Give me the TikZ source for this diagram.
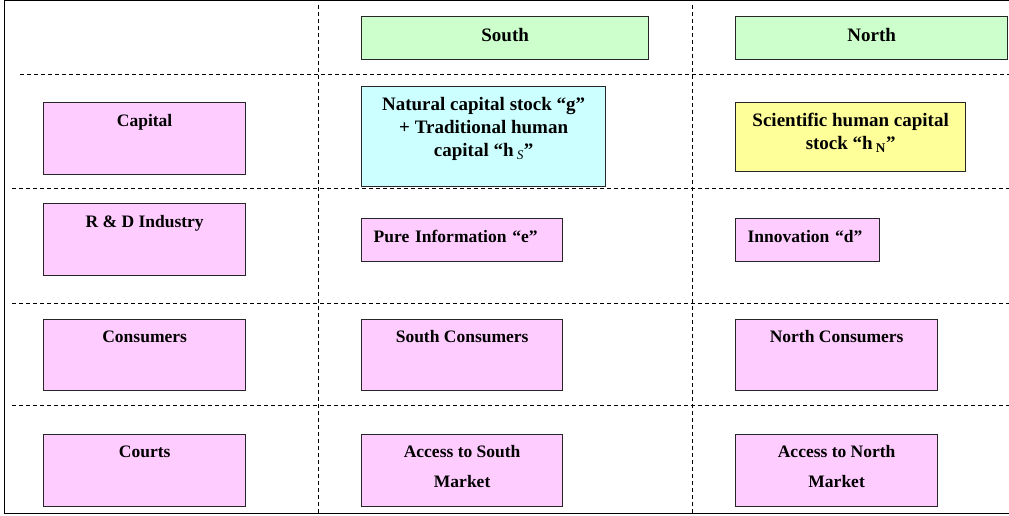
\documentclass[tikz,border=0pt]{standalone}
\usepackage{fontspec}
\setmainfont{Liberation Serif}
\definecolor{headgreen}{HTML}{CCFFCC}
\definecolor{cellpink}{HTML}{FFCCFF}
\definecolor{cellcyan}{HTML}{CCFFFF}
\definecolor{cellyellow}{HTML}{FFFF99}
\tikzset{
  cell/.style={draw=black!85, line width=1.3pt, anchor=north west, inner sep=0pt,
    align=center, font=\bfseries\fontsize{17.5}{23}\selectfont},
  bigcell/.style={cell, font=\bfseries\fontsize{19}{23}\selectfont},
  grid line/.style={dashed, dash pattern=on 4pt off 3pt, line width=0.8pt},
}
\begin{document}
\begin{tikzpicture}[x=1pt, y=-1pt]
    \useasboundingbox (0,0) rectangle (1009,516);

    % Frame and dashed grid
    \draw[line width=1pt] (1009,1) -- (4,1) -- (4,513) -- (1009,513);
    \draw[grid line] (318,5) -- (318,513);
    \draw[grid line] (692,5) -- (692,513);
    \draw[grid line] (20,74) -- (1009,74);
    \draw[grid line] (12,188) -- (1009,188);
    \draw[grid line] (12,303) -- (1009,303);
    \draw[grid line] (12,405) -- (1009,405);

    % Column headers
    \node[bigcell, fill=headgreen, minimum width=287pt, text height=25pt, text depth=18pt] (south) at (361,16) {South};
    \node[bigcell, fill=headgreen, minimum width=272pt, text height=25pt, text depth=18pt] (north) at (735,16) {North};

    % Row: capital
    \node[cell, fill=cellpink, minimum width=202pt, text height=24pt, text depth=48pt] (capital) at (43,102) {Capital};
    \node[bigcell, fill=cellcyan, minimum width=244pt, text height=70pt, text depth=30pt] (natural) at (361,86)
        {Natural capital stock ``g''\\+ Traditional human\\capital ``h\,\textsubscript{\textmd{\textit{S}}}''};
    \node[bigcell, fill=cellyellow, minimum width=230pt, text height=47pt, text depth=22pt] (science) at (735,102)
        {Scientific human capital\\stock ``h\,\textsubscript{N}''};

    % Row: R & D
    \node[cell, fill=cellpink, minimum width=202pt, text height=24pt, text depth=48pt] (rnd) at (43,203) {R \& D Industry};
    \node[cell, fill=cellpink, align=left, text width=177pt, inner xsep=12pt, text height=24pt, text depth=19pt] (info) at (361,218)
        {Pure Information ``e''};
    \node[cell, fill=cellpink, align=left, text width=120pt, inner xsep=12pt, text height=24pt, text depth=19pt] (innov) at (735,218)
        {Innovation ``d''};

    % Row: consumers
    \node[cell, fill=cellpink, minimum width=202pt, text height=23pt, text depth=48pt] (cons) at (43,319) {Consumers};
    \node[cell, fill=cellpink, minimum width=201pt, text height=23pt, text depth=48pt] (scons) at (361,319) {South Consumers};
    \node[cell, fill=cellpink, minimum width=202pt, text height=23pt, text depth=48pt] (ncons) at (735,319) {North Consumers};

    % Row: courts
    \node[cell, fill=cellpink, minimum width=202pt, text height=23pt, text depth=49pt] (courts) at (43,434) {Courts};
    \node[cell, fill=cellpink, minimum width=201pt, text height=53pt, text depth=19pt,
        font=\bfseries\fontsize{17.5}{30}\selectfont] (smarket) at (361,434) {Access to South\\Market};
    \node[cell, fill=cellpink, minimum width=202pt, text height=53pt, text depth=19pt,
        font=\bfseries\fontsize{17.5}{30}\selectfont] (nmarket) at (735,434) {Access to North\\Market};
\end{tikzpicture}
\end{document}
